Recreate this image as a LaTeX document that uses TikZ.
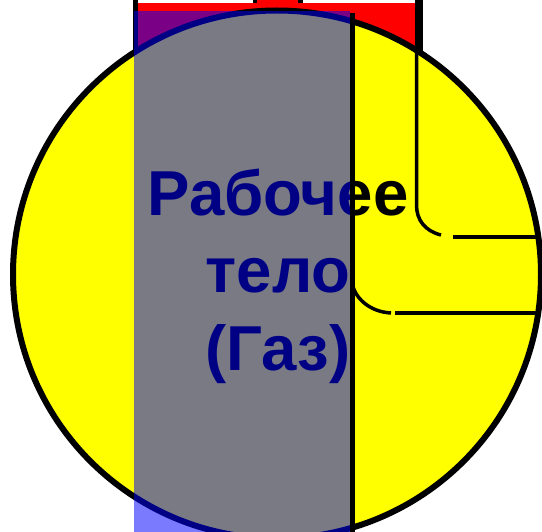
\documentclass[tikz,border=0pt]{standalone}
\usepackage{fontspec}
\setmainfont{Liberation Sans}
\definecolor{vyellow}{RGB}{255,255,0}
\definecolor{vred}{RGB}{255,0,0}
\definecolor{vblue}{RGB}{0,0,255}
\tikzset{
  pipe/.style={draw=black,line width=3.5pt},
  vessel/.style={circle,draw=black,line width=6pt,fill=vyellow,minimum size=528pt,inner sep=0pt,outer sep=0pt},
  label/.style={font=\fontsize{63.5}{77.5}\selectfont\bfseries,align=center,text=black,inner sep=0pt},
  overlay/.style={fill=vblue,fill opacity=0.52,draw=none}
}
\begin{document}
\begin{tikzpicture}[x=1pt,y=-1pt]
\useasboundingbox (0,0) rectangle (542,532);
\clip (0,0) rectangle (542,532);
% cylinder
\fill[vred] (136,3) rectangle (419,70);
\fill[vred] (255,0) rectangle (300,3);
\draw[line width=5pt] (135.5,0) -- (135.5,60);
\draw[line width=8pt] (419,0) -- (419,56);
\draw[line width=4pt] (255,0) -- (255,3);
\draw[line width=5pt] (300.5,0) -- (300.5,3);
% vessel
\node[vessel] (v) at (277,274.5) {};
% pipes
\coordinate (p1a) at (416.5,44);
\coordinate (p1b) at (441,235);
\coordinate (p1c) at (453,237);
\coordinate (p1d) at (540,237);
\coordinate (p2a) at (352,270);
\coordinate (p2b) at (391,313);
\coordinate (p2c) at (395,313);
\coordinate (p2d) at (540,313);
\draw[pipe] (p1a) -- (416.5,205) .. controls (416.5,220) and (425,231) .. (p1b);
\draw[pipe] (p1c) -- (p1d);
\draw[pipe] (p2a) -- (352,282) .. controls (354,298) and (370,312) .. (p2b);
\draw[pipe] (p2c) -- (p2d);
% text
\node[label] (t) at (278,276) {Рабочее\\тело\\(Газ)};
% overlay
\path[overlay] (134,11) rectangle (350,532);
% divider
\draw[line width=5pt] (352,13) -- (352,532);
\end{tikzpicture}
\end{document}
